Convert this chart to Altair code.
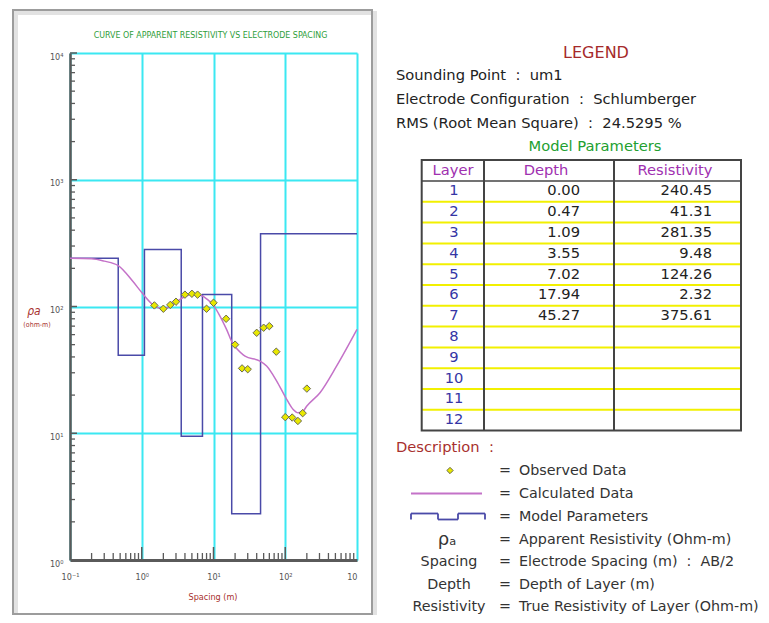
import altair as alt
import pandas as pd

# ---------------- data ----------------
obs_spacing = [1.5, 2, 2.5, 3, 4, 5, 6, 8, 10, 15, 20, 25, 30, 40, 50, 60, 75, 100, 125, 150, 175, 200]
obs_rho = [102, 96, 103, 109, 124, 126, 124, 96, 107, 80, 50, 32.5, 32, 62, 68, 70, 44, 13.4, 13.3, 12.5, 14.4, 22.5]

calc_spacing = [0.1, 0.2, 0.3, 0.47, 0.75, 1.0, 1.44, 1.96, 2.5, 3, 4, 5, 6, 7.2, 8, 10, 12.3, 15.2,
                18.9, 20.4, 27.5, 44.5, 55, 76, 101, 129, 151, 178, 200, 305, 521, 1000]
calc_rho = [240, 238, 228, 210, 158, 129, 103, 96, 100, 108, 120, 125, 124, 120, 115, 102, 84, 66,
            50, 47.5, 40.6, 37.1, 33.9, 25.8, 19.2, 15.4, 14.5, 15, 16.4, 20.9, 34, 66]

layer_no = list(range(1, 13))
layer_depth = [0.00, 0.47, 1.09, 3.55, 7.02, 17.94, 45.27]
layer_res = [240.45, 41.31, 281.35, 9.48, 124.26, 2.32, 375.61]

x_decades = [0.1, 1, 10, 100, 1000]
y_decades = [1, 10, 100, 1000, 10000]
x_minor = [k * 10.0 ** d for d in range(-1, 3) for k in range(2, 10)]
x_major = [1, 10, 100]
y_minor = [k * 10.0 ** d for d in range(0, 4) for k in range(2, 10)]
y_major = [10, 100, 1000, 10000]

chart_title = "CURVE OF APPARENT RESISTIVITY VS ELECTRODE SPACING"
x_title = "Spacing (m)"
y_title = ["\u03c1a", "(ohm-m)"]
legend_title = "LEGEND"
info_lines = ["Sounding Point \u00a0:\u00a0 um1",
              "Electrode Configuration \u00a0:\u00a0 Schlumberger",
              "RMS (Root Mean Square) \u00a0:\u00a0 24.5295 %"]
model_title = "Model Parameters"
table_headers = ["Layer", "Depth", "Resistivity"]
desc_title = "Description \u00a0:"
desc_keys = ["", "", "", "\u03c1\u2090", "Spacing", "Depth", "Resistivity"]
desc_texts = ["Observed Data", "Calculated Data", "Model Parameters",
              "Apparent Resistivity (Ohm-m)", "Electrode Spacing (m) \u00a0:\u00a0 AB/2",
              "Depth of Layer (m)", "True Resistivity of Layer (Ohm-m)"]

# ---------------- styling ----------------
W, H = 287, 507
CYAN = "#3BE8F2"
AX = "#5a5a5a"
COND = "DejaVu Sans Condensed"
SANS = "DejaVu Sans"
FS = 14.7
FS_DESC = 14.3
MODEL_C = "#4A4AA8"
CALC_C = "#C472C8"
DARKRED = "#A8302E"

xs = alt.Scale(type="log", domain=[0.1, 1000])
ys = alt.Scale(type="log", domain=[1, 10000])
xaxis = alt.Axis(values=x_decades, title=None, ticks=False, tickSize=0, grid=True, gridColor=CYAN,
                 gridWidth=2, domainColor=AX, domainWidth=2.8, labelFont=COND, labelFontSize=9,
                 labelColor="#555", labelPadding=12, labelFlush=False,
                 labelAlign={"condition": {"test": "datum.value > 500", "value": "right"}, "value": "center"},
                 labelExpr="datum.value < 0.5 ? '10\u207b\u00b9' : datum.value < 5 ? '10\u2070' : "
                           "datum.value < 50 ? '10\u00b9' : datum.value < 500 ? '10\u00b2' : '10'")
yaxis = alt.Axis(values=y_decades, title=None, ticks=False, tickSize=0, grid=True, gridColor=CYAN,
                 gridWidth=2, domainColor=AX, domainWidth=2.5, labelFont=COND, labelFontSize=9,
                 labelColor="#555", labelPadding=7, labelFlush=False, labelOffset=3,
                 labelExpr="datum.value < 5 ? '10\u2070' : datum.value < 50 ? '10\u00b9' : "
                           "datum.value < 500 ? '10\u00b2' : datum.value < 5000 ? '10\u00b3' : '10\u2074'")


def X(f):
    return alt.X(f, type="quantitative", scale=xs, axis=xaxis)


def Y(f):
    return alt.Y(f, type="quantitative", scale=ys, axis=yaxis)


one = pd.DataFrame({"k": [0]})


def txt(x, y, s, size=FS, color="#222", align="left", font=SANS, weight="normal", style="normal"):
    return alt.Chart(one).mark_text(align=align, baseline="middle", fontSize=size, color=color,
                                    font=font, fontWeight=weight, fontStyle=style).encode(
        x=alt.value(x), y=alt.value(y), text=alt.value(s))


def seg(x1, y1, x2, y2, color, w):
    return alt.Chart(one).mark_rule(color=color, strokeWidth=w).encode(
        x=alt.value(x1), x2=alt.value(x2), y=alt.value(y1), y2=alt.value(y2))


def box(x1, y1, x2, y2, color, w):
    return alt.Chart(one).mark_rect(filled=False, stroke=color, strokeWidth=w).encode(
        x=alt.value(x1), x2=alt.value(x2), y=alt.value(y1), y2=alt.value(y2))


layers = []
# frame with shadow
layers.append(box(-54, -40, 305, 564, "#e2e2e2", 4))
layers.append(box(-57, -43, 302, 561, "#9c9c9c", 2))

# data layers
calc_df = pd.DataFrame({"x": calc_spacing, "y": calc_rho})
obs_df = pd.DataFrame({"x": obs_spacing, "y": obs_rho})
model_df = pd.DataFrame({"x": [0.1] + layer_depth[1:] + [1000], "y": layer_res + [layer_res[-1]]})

layers.append(alt.Chart(pd.DataFrame({"x": x_minor})).mark_rule(color=AX, strokeWidth=1.3).encode(
    x=X("x"), y=alt.value(H - 7), y2=alt.value(H)))
layers.append(alt.Chart(pd.DataFrame({"x": x_major})).mark_rule(color=AX, strokeWidth=1.5).encode(
    x=X("x"), y=alt.value(H - 13), y2=alt.value(H)))
layers.append(alt.Chart(pd.DataFrame({"y": y_minor})).mark_rule(color=AX, strokeWidth=1.3).encode(
    y=Y("y"), x=alt.value(0), x2=alt.value(5)))
layers.append(alt.Chart(pd.DataFrame({"y": y_major})).mark_rule(color=AX, strokeWidth=1.5).encode(
    y=Y("y"), x=alt.value(0), x2=alt.value(7)))

layers.append(alt.Chart(model_df).mark_line(interpolate="step-after", color=MODEL_C, strokeWidth=1.5).encode(
    x=X("x"), y=Y("y")))
layers.append(alt.Chart(calc_df).mark_line(interpolate="monotone", color=CALC_C, strokeWidth=1.5).encode(
    x=X("x"), y=Y("y")))
layers.append(alt.Chart(obs_df).mark_point(shape="diamond", filled=True, fill="#E8E800", stroke="#6a6a50",
                                           strokeWidth=1, size=55, opacity=1).encode(x=X("x"), y=Y("y")))

# chart texts
layers.append(txt(140.5, -18, chart_title, size=8.8, color="#2E9E3A", align="center", font=COND))
layers.append(txt(143, 544, x_title, size=9, color=DARKRED, align="center", font=COND))
layers.append(txt(-36, 258, y_title[0], size=12, color=DARKRED, align="center", font=COND, style="italic"))
layers.append(txt(-33, 272, y_title[1], size=7, color=DARKRED, align="center", font=COND))

# legend panel
layers.append(txt(526, 0, legend_title, size=16, color="#A52A2A", align="center"))
for i, s in enumerate(info_lines):
    layers.append(txt(326, 23 + 24 * i, s))
layers.append(txt(525, 94, model_title, color="#22A030", align="center"))

# table geometry
TL, C2, C3, TR = 351.7, 414, 544, 671
TT, HB, RH = 107, 128, 20.8
TB = HB + RH * 12
for i in range(1, 12):
    yy = HB + RH * i
    layers.append(seg(TL, yy, TR, yy, "#F2F000", 2))
layers.append(seg(TL, HB, TR, HB, "#444", 1.5))
layers.append(seg(C2, TT, C2, TB, "#444", 2))
layers.append(seg(C3, TT, C3, TB, "#444", 2))
layers.append(box(TL, TT, TR, TB, "#444", 2))

layers.append(txt(383, 117.5, table_headers[0], color="#A030B0", align="center"))
layers.append(txt(476, 117.5, table_headers[1], color="#A030B0", align="center"))
layers.append(txt(605, 117.5, table_headers[2], color="#A030B0", align="center"))
for i, n in enumerate(layer_no):
    yc = HB + RH * (i + 0.5)
    layers.append(txt(384, yc, str(n), color="#3535A5", align="center"))
for i, (d, r) in enumerate(zip(layer_depth, layer_res)):
    yc = HB + RH * (i + 0.5)
    layers.append(txt(510, yc, f"{d:.2f}", align="right"))
    layers.append(txt(642, yc, f"{r:.2f}", align="right"))

# description
layers.append(txt(326, 395, desc_title, color=DARKRED))
desc_y = [417.5, 440.5, 463.5, 486.5, 509, 531.5, 554]
layers.append(alt.Chart(one).mark_point(shape="diamond", filled=True, fill="#E8E800", stroke="#6a6a50",
                                        strokeWidth=1, size=40, opacity=1).encode(
    x=alt.value(380), y=alt.value(desc_y[0])))
layers.append(seg(341, desc_y[1], 412, desc_y[1], CALC_C, 2))
mt, mb = desc_y[2] - 3, desc_y[2] + 3
for (a, b, c, d) in [(341, mb, 341, mt), (341, mt, 368, mt), (368, mt, 368, mb), (368, mb, 388, mb),
                     (388, mb, 388, mt), (388, mt, 415, mt), (415, mt, 415, mb)]:
    layers.append(seg(a, b, c, d, MODEL_C, 1.8))
layers.append(txt(377, desc_y[3], desc_keys[3], size=18, color="#333", align="center"))
for k in range(4, 7):
    layers.append(txt(379, desc_y[k], desc_keys[k], size=FS_DESC, color="#333", align="center"))
for k in range(7):
    layers.append(txt(435, desc_y[k], "=", size=FS_DESC, color="#333", align="center"))
    layers.append(txt(449, desc_y[k], desc_texts[k], size=FS_DESC, color="#333"))

chart = alt.layer(*layers).properties(
    width=W, height=H,
    padding={"left": 62, "top": 45, "right": 404, "bottom": 55},
    autosize=alt.AutoSizeParams(type="none"),
    background="white",
).configure_view(stroke=None)

chart.save("out.html", embed_options={"renderer": "svg", "actions": False})
